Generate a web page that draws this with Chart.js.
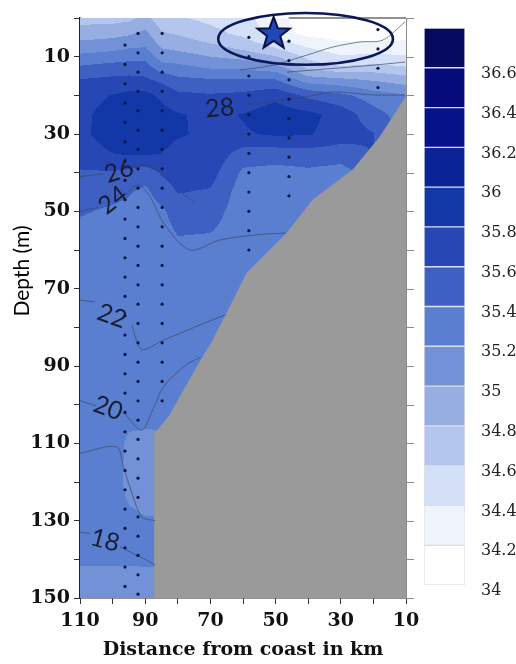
<!DOCTYPE html>
<html>
<head>
<meta charset="utf-8">
<script src="https://cdn.jsdelivr.net/npm/chart.js@4.4.1/dist/chart.umd.min.js"></script>
<style>
  html, body { margin: 0; padding: 0; background: #fff; }
  #wrap { position: relative; width: 516px; height: 664px; }
  #main { position: absolute; left: 0; top: 0; }
  #bar { position: absolute; left: 410px; top: 18px; }
</style>
</head>
<body>
<div id="wrap">
  <canvas id="main" width="516" height="664"></canvas>
  <canvas id="bar" width="106" height="590"></canvas>
</div>
<script>
// grid of the salinity section: distance columns (km) and depth rows (m)
const distances = [110, 100, 95, 90, 85, 80, 70, 60, 50, 40, 30, 20, 10];
const depths = [0, 4, 8, 12, 16, 20, 25, 30, 35, 40, 45, 50, 55, 60, 70, 80, 90, 100, 110, 120, 130, 140, 150];

// salinity profile for each distance column (one value per depth row)
const sal110 = [34.72, 34.9, 35.12, 35.38, 35.61, 35.7, 35.74, 35.75, 35.7, 35.58, 35.5, 35.42, 35.35, 35.3, 35.3, 35.3, 35.3, 35.3, 35.3, 35.3, 35.3, 35.22, 35.1];
const sal100 = [34.72, 34.93, 35.16, 35.43, 35.65, 35.81, 35.9, 35.9, 35.8, 35.58, 35.46, 35.37, 35.32, 35.3, 35.3, 35.3, 35.3, 35.3, 35.3, 35.3, 35.28, 35.22, 35.1];
const sal95 = [34.75, 34.97, 35.21, 35.45, 35.66, 35.85, 35.94, 35.94, 35.83, 35.55, 35.42, 35.34, 35.3, 35.3, 35.3, 35.3, 35.3, 35.3, 35.16, 35.14, 35.24, 35.22, 35.1];
const sal90 = [34.85, 35.05, 35.22, 35.45, 35.64, 35.86, 35.96, 35.96, 35.83, 35.5, 35.35, 35.3, 35.3, 35.3, 35.3, 35.3, 35.3, 35.3, 35.14, 35.12, 35.21, 35.22, 35.12];
const sal85 = [34.68, 34.82, 35.01, 35.23, 35.55, 35.76, 35.87, 35.87, 35.8, 35.62, 35.5, 35.36, 35.32, 35.3, 35.3, 35.3, 35.3, 35.3, 35.15, 35.12, 35.21, 35.22, 35.12];
const sal80 = [34.62, 34.78, 34.97, 35.21, 35.45, 35.65, 35.82, 35.82, 35.74, 35.68, 35.61, 35.5, 35.42, 35.35, 35.3, 35.3, 35.3, 35.3, 35.3, 35.3, 35.3, 35.3, 35.3];
const sal70 = [34.55, 34.66, 34.88, 35.12, 35.42, 35.62, 35.75, 35.76, 35.74, 35.68, 35.58, 35.48, 35.41, 35.33, 35.3, 35.3, 35.3, 35.3, 35.3, 35.3, 35.3, 35.3, 35.3];
const sal60 = [34.48, 34.55, 34.78, 35.1, 35.41, 35.65, 35.81, 35.78, 35.52, 35.36, 35.3, 35.3, 35.3, 35.3, 35.3, 35.3, 35.3, 35.3, 35.3, 35.3, 35.3, 35.3, 35.3];
const sal50 = [34.25, 34.3, 34.62, 35.01, 35.41, 35.75, 35.9, 35.83, 35.5, 35.33, 35.3, 35.3, 35.3, 35.3, 35.3, 35.3, 35.3, 35.3, 35.3, 35.3, 35.3, 35.3, 35.3];
const sal40 = [34.1, 34.14, 34.42, 34.68, 35.1, 35.55, 35.86, 35.82, 35.52, 35.36, 35.3, 35.3, 35.3, 35.3, 35.3, 35.3, 35.3, 35.3, 35.3, 35.3, 35.3, 35.3, 35.3];
const sal30 = [34.1, 34.1, 34.3, 34.55, 35.05, 35.45, 35.72, 35.7, 35.5, 35.32, 35.3, 35.3, 35.3, 35.3, 35.3, 35.3, 35.3, 35.3, 35.3, 35.3, 35.3, 35.3, 35.3];
const sal20 = [34.1, 34.1, 34.3, 34.61, 34.98, 35.3, 35.48, 35.61, 35.61, 35.5, 35.3, 35.3, 35.3, 35.3, 35.3, 35.3, 35.3, 35.3, 35.3, 35.3, 35.3, 35.3, 35.3];
const sal10 = [34.1, 34.12, 34.3, 34.55, 34.9, 35.21, 35.3, 35.3, 35.3, 35.3, 35.3, 35.3, 35.3, 35.3, 35.3, 35.3, 35.3, 35.3, 35.3, 35.3, 35.3, 35.3, 35.3];
const salinityColumns = [sal110, sal100, sal95, sal90, sal85, sal80, sal70, sal60, sal50, sal40, sal30, sal20, sal10];

// colour levels
const levels = [34, 34.2, 34.4, 34.6, 34.8, 35, 35.2, 35.4, 35.6, 35.8, 36, 36.2, 36.4, 36.6, 36.8];
const levelColors = ['#ffffff', '#eff3fb', '#d4dff8', '#b4c6ee', '#97aee2', '#7291d6', '#5a7fd1',
  '#3e60c2', '#2747b4', '#1237a6', '#0a2496', '#05128a', '#050b7a', '#060a5e'];

// sea floor outline
const bottomDist = [10, 18, 26.3, 38.5, 46.5, 52.6, 58.8, 64, 69.2, 74.1, 79.3, 82.4, 87, 87, 10];
const bottomDepth = [20.4, 30.8, 39.3, 47, 55.6, 60.8, 66, 74.8, 83.3, 90.3, 98, 102.7, 107.4, 150, 150];

// CTD stations and their sample depths
const stationDist = [96.2, 92.2, 84.8, 58.2, 45.9, 18.6];
const stationDepths = [
  [7, 12, 17, 22, 27, 32, 37, 42, 47, 52, 57, 62, 67, 72, 77, 82, 87, 92, 97, 102, 107, 112, 117, 122, 127, 132, 137, 142, 147],
  [4, 9, 14, 19, 24, 29, 34, 39, 44, 49, 54, 59, 64, 69, 74, 79, 84, 89, 94, 99, 104, 109, 114, 119, 124, 129, 134, 139, 144, 149],
  [4, 9, 14, 19, 24, 29, 34, 39, 44, 49, 54, 59, 64, 69, 74, 79, 84, 89, 94, 99],
  [5, 10, 15, 20, 25, 30, 35, 40, 45, 50, 55, 60],
  [6, 11, 16, 21, 26, 31, 36, 41, 46],
  [3, 8, 13, 18]
];

// temperature isotherms (distance, depth pairs)
const isoTop1 = [[60.9, 13.5], [50.8, 12.2], [40.4, 9.6], [32.4, 7.5], [24.1, 6.2], [17.1, 5.7], [10.3, 1.0]];
const isoTop2 = [[46.5, 14], [30.2, 12.9], [20.1, 12.2], [10.3, 11.4]];
const iso28Right = [[60, 22.6], [50, 21.5], [40, 20.3], [32.4, 19.1], [20.1, 19.9], [10.3, 19.9]];
const iso26Left = [[110, 41], [102.5, 40.3]];
const iso26Right = [[93.6, 38.5], [89.5, 38], [84.4, 40.6], [79.3, 44.9], [75.2, 47.5]];
const iso24Left = [[110, 50], [104.5, 49]];
const iso24Right = [[95.7, 45.4], [92.1, 43.2], [88.5, 46.2], [84.4, 53], [76.3, 60], [67, 57.4], [55, 56], [46.8, 55.6]];
const iso22Left = [[110, 73], [105.4, 73.4]];
const iso22Right = [[94.1, 79.4], [91.1, 85.7], [84.4, 83.3], [67.1, 77.3], [65.3, 76.8]];
const iso20Left = [[110, 99], [105, 100.3]];
const iso20Right = [[96.7, 101.9], [91.1, 106.6], [87.5, 101], [84.5, 95.5], [78, 90], [73, 87.7]];
const iso19 = [[110, 112.6], [98.8, 110.9], [96.7, 116.1], [94.7, 121.3], [91.1, 129], [87, 130]];
const iso18Left = [[110, 133], [106.9, 133.3]];
const iso18Right = [[97.7, 136.8], [89.6, 140.2], [87, 141.5]];
const isotherms = [isoTop1, isoTop2, iso28Right, iso26Left, iso26Right, iso24Left, iso24Right,
  iso22Left, iso22Right, iso20Left, iso20Right, iso19, iso18Left, iso18Right];

// temperature contour labels
const isoText = ['28', '26', '24', '22', '20', '18'];
const isoDist = [67.1, 98.0, 99.9, 100.2, 101.4, 102.3];
const isoDepth = [23.3, 39.6, 47.1, 77.1, 100.9, 135.1];
const isoAngle = [-5, -18, -38, 20, 20, 15];

// star and ellipse
const starDist = 50.6, starDepth = 4.1;
const ellipseDist = 40.8, ellipseDepth = 5.4, ellipseHalfDist = 26.8, ellipseHalfDepth = 6.7;

// tick values
const xTickValues = [10, 20, 30, 40, 50, 60, 70, 80, 90, 100, 110];
const yTickValues = [0, 10, 20, 30, 40, 50, 60, 70, 80, 90, 100, 110, 120, 130, 140, 150];

function salinityAt(d, z) {
  let i = 0;
  while (i < distances.length - 2 && d < distances[i + 1]) i++;
  let j = 0;
  while (j < depths.length - 2 && z > depths[j + 1]) j++;
  const tx = Math.min(1, Math.max(0, (distances[i] - d) / (distances[i] - distances[i + 1])));
  const ty = Math.min(1, Math.max(0, (z - depths[j]) / (depths[j + 1] - depths[j])));
  const a = salinityColumns[i], b = salinityColumns[i + 1];
  const top = a[j] * (1 - tx) + b[j] * tx;
  const bot = a[j + 1] * (1 - tx) + b[j + 1] * tx;
  return top * (1 - ty) + bot * ty;
}

function hexToRgb(h) {
  return [parseInt(h.slice(1, 3), 16), parseInt(h.slice(3, 5), 16), parseInt(h.slice(5, 7), 16)];
}

// filled salinity contours under the datasets
const sectionPlugin = {
  id: 'section',
  beforeDatasetsDraw(chart) {
    const { ctx, chartArea: area, scales: { x, y } } = chart;
    const w = Math.round(area.right - area.left), h = Math.round(area.bottom - area.top);
    const off = document.createElement('canvas');
    off.width = w; off.height = h;
    const g = off.getContext('2d');
    const img = g.createImageData(w, h);
    const rgb = levelColors.map(hexToRgb);
    for (let py = 0; py < h; py++) {
      const z = y.getValueForPixel(area.top + py + 0.5);
      for (let px = 0; px < w; px++) {
        const d = x.getValueForPixel(area.left + px + 0.5);
        const v = salinityAt(d, z);
        let k = Math.floor((v - levels[0]) / 0.2);
        k = Math.max(0, Math.min(levelColors.length - 1, k));
        const p = (py * w + px) * 4;
        img.data[p] = rgb[k][0]; img.data[p + 1] = rgb[k][1]; img.data[p + 2] = rgb[k][2]; img.data[p + 3] = 255;
      }
    }
    g.putImageData(img, 0, 0);
    ctx.drawImage(off, area.left, area.top);
  },
  afterDatasetsDraw(chart) {
    const { ctx, chartArea: area, scales: { x, y } } = chart;
    ctx.save();
    // right side ticks and frame
    ctx.strokeStyle = '#8a8a8a';
    ctx.lineWidth = 1;
    ctx.beginPath();
    ctx.moveTo(area.right + 0.5, area.top);
    ctx.lineTo(area.right + 0.5, area.bottom);
    y.ticks.forEach(t => {
      const py = Math.round(y.getPixelForValue(t.value)) + 0.5;
      ctx.moveTo(area.right, py);
      ctx.lineTo(area.right + 8, py);
    });
    ctx.stroke();
    ctx.strokeStyle = '#222';
    ctx.lineWidth = 1.2;
    ctx.beginPath();
    ctx.moveTo(x.getPixelForValue(46), area.top);
    ctx.lineTo(area.right, area.top);
    ctx.stroke();

    // ellipse round the surface water
    const cx = x.getPixelForValue(ellipseDist), cy = y.getPixelForValue(ellipseDepth);
    const rx = Math.abs(x.getPixelForValue(ellipseDist - ellipseHalfDist) - cx);
    const ry = Math.abs(y.getPixelForValue(ellipseDepth + ellipseHalfDepth) - cy);
    ctx.strokeStyle = '#0c1858';
    ctx.lineWidth = 2.6;
    ctx.beginPath();
    ctx.ellipse(cx, cy, rx, ry, 0, 0, Math.PI * 2);
    ctx.stroke();

    // contour labels
    ctx.fillStyle = '#1b1d2e';
    ctx.font = '25px Lato';
    ctx.textAlign = 'center';
    ctx.textBaseline = 'middle';
    isoText.forEach((t, k) => {
      ctx.save();
      ctx.translate(x.getPixelForValue(isoDist[k]), y.getPixelForValue(isoDepth[k]));
      ctx.rotate(isoAngle[k] * Math.PI / 180);
      ctx.fillText(t, 0, 0);
      ctx.restore();
    });

    // star on top
    const sx = x.getPixelForValue(starDist), sy = y.getPixelForValue(starDepth);
    ctx.beginPath();
    for (let k = 0; k < 10; k++) {
      const r = k % 2 === 0 ? 17 : 7;
      const a = -Math.PI / 2 + k * Math.PI / 5;
      ctx.lineTo(sx + r * Math.cos(a), sy + r * Math.sin(a));
    }
    ctx.closePath();
    ctx.fillStyle = '#1f47b8';
    ctx.fill();
    ctx.lineWidth = 2;
    ctx.strokeStyle = '#0b1240';
    ctx.stroke();
    ctx.restore();
  },
  afterDraw(chart) {
    const { ctx } = chart;
    ctx.save();
    ctx.translate(22, 271);
    ctx.rotate(-Math.PI / 2);
    ctx.font = '21px Lato';
    ctx.fillStyle = '#000';
    ctx.textAlign = 'center';
    ctx.textBaseline = 'middle';
    ctx.fillText('Depth (m)', 0, 0);
    ctx.restore();
  }
};

const stationDatasets = stationDist.map((d, k) => ({
  data: stationDepths[k].map(z => ({ x: d, y: z })),
  pointRadius: 1.6,
  pointBackgroundColor: '#0d1440',
  pointBorderWidth: 0,
  order: 1
}));

const isothermDatasets = isotherms.map(line => ({
  data: line.map(p => ({ x: p[0], y: p[1] })),
  showLine: true,
  borderColor: 'rgba(60,66,90,0.65)',
  borderWidth: 1,
  pointRadius: 0,
  tension: 0.3,
  order: 2
}));

new Chart(document.getElementById('main'), {
  type: 'scatter',
  data: {
    datasets: [
      ...stationDatasets,
      ...isothermDatasets,
      {
        data: bottomDist.map((d, k) => ({ x: d, y: bottomDepth[k] })),
        showLine: true,
        fill: 'shape',
        backgroundColor: '#9a9a9a',
        borderColor: '#9a9a9a',
        borderWidth: 1,
        pointRadius: 0,
        order: 5
      }
    ]
  },
  plugins: [sectionPlugin],
  options: {
    responsive: false,
    animation: false,
    layout: { padding: { left: 0, right: 110, top: 18, bottom: 0 } },
    plugins: { legend: { display: false }, tooltip: { enabled: false } },
    scales: {
      x: {
        type: 'linear', min: 10, max: 110, reverse: true,
        afterBuildTicks: s => { s.ticks = xTickValues.map(v => ({ value: v })); },
        afterFit: s => { s.height = 66; s.paddingLeft = 0; s.paddingRight = 0; },
        ticks: {
          autoSkip: false, maxRotation: 0, padding: 6, color: '#111',
          font: { family: 'DejaVu Serif', size: 19, weight: 'bold' },
          callback: v => (v % 20 === 10 ? String(v) : '')
        },
        grid: { display: true, drawOnChartArea: false, drawTicks: true, tickLength: 6, color: '#333' },
        border: { display: true, color: '#222', width: 1.5 },
        title: {
          display: true, text: 'Distance from coast in km', color: '#111',
          font: { family: 'DejaVu Serif', size: 19, weight: 'bold' }, padding: { top: 0, bottom: 3 }
        }
      },
      y: {
        type: 'linear', min: 0, max: 150, reverse: true,
        afterBuildTicks: s => { s.ticks = yTickValues.map(v => ({ value: v })); },
        afterFit: s => { s.width = 80; s.paddingTop = 0; s.paddingBottom = 0; },
        ticks: {
          autoSkip: false, padding: 4, color: '#111',
          font: { family: 'DejaVu Serif', size: 19, weight: 'bold' },
          callback: v => (v % 20 === 10 ? String(v) : '')
        },
        grid: { display: true, drawOnChartArea: false, drawTicks: true, tickLength: 6, color: '#333' },
        border: { display: true, color: '#222', width: 1.5 }
      }
    }
  }
});

// colour bar
new Chart(document.getElementById('bar'), {
  type: 'bar',
  data: {
    labels: ['S'],
    datasets: levelColors.map((c, k) => ({
      data: [[levels[k], levels[k + 1]]],
      backgroundColor: c,
      borderColor: 'rgba(196,202,216,0.55)',
      borderWidth: 1,
      borderSkipped: false,
      barPercentage: 1,
      categoryPercentage: 1,
      grouped: false
    }))
  },
  options: {
    responsive: false,
    animation: false,
    layout: { padding: { left: 14, right: 0, top: 10, bottom: 23 } },
    plugins: { legend: { display: false }, tooltip: { enabled: false } },
    scales: {
      x: { display: false },
      y: {
        type: 'linear', position: 'right', min: 34, max: 36.8,
        afterBuildTicks: s => { s.ticks = levels.map(v => ({ value: v })); },
        afterFit: s => { s.width = 51; s.paddingTop = 0; s.paddingBottom = 0; },
        ticks: {
          padding: 8, labelOffset: 6, color: '#222',
          font: { family: 'DejaVu Serif', size: 16 },
          callback: v => (v > 36.7 ? '' : String(+v.toFixed(1)))
        },
        grid: { display: false },
        border: { display: false }
      }
    }
  }
});
</script>
</body>
</html>
